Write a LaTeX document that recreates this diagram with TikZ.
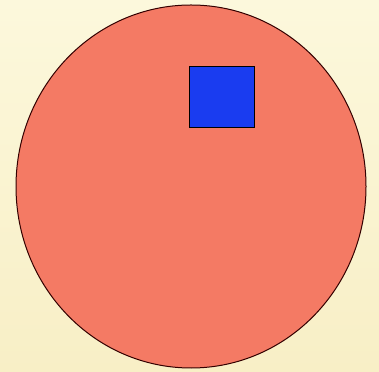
\documentclass[tikz,border=0pt]{standalone}
\usetikzlibrary{shapes.geometric}
\definecolor{bgtop}{HTML}{FCF8DC}
\definecolor{bgbot}{HTML}{F8EFC6}
\definecolor{disc}{HTML}{F47A64}
\definecolor{sq}{HTML}{1A3CF0}
\begin{document}
\begin{tikzpicture}[x=1pt,y=1pt,
  discstyle/.style={ellipse,draw=black!80!red,line width=1pt,fill=disc,inner sep=0pt},
  sqstyle/.style={rectangle,draw=black,line width=1pt,fill=sq,inner sep=0pt}]
\useasboundingbox (0,0) rectangle (379,371);
\shade[top color=bgtop,bottom color=bgbot] (0,0) rectangle (379,371);
\node[discstyle,minimum width=350pt,minimum height=363pt] (disc) at (191,184.5) {};
\node[sqstyle,minimum width=65pt,minimum height=61pt] (box) at (221.5,273.5) {};
\end{tikzpicture}
\end{document}
